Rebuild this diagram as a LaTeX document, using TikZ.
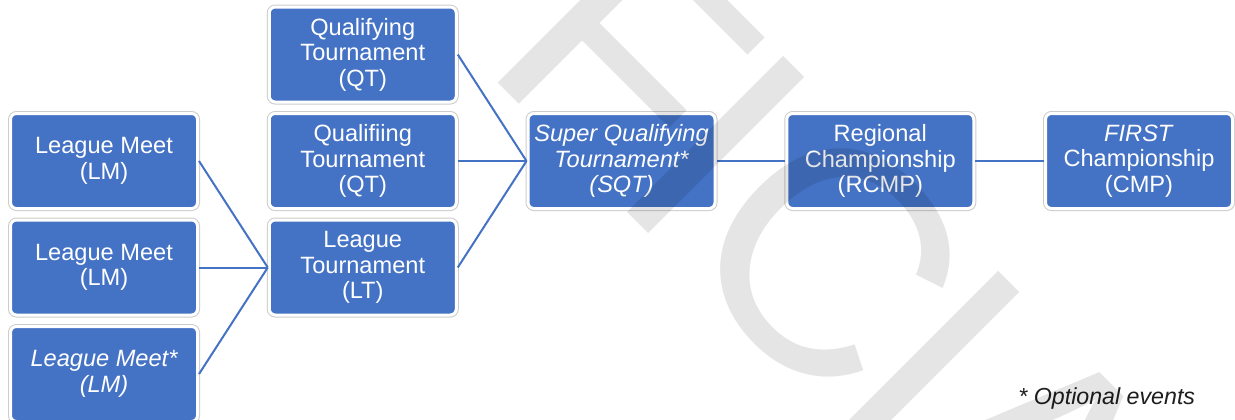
\documentclass[tikz,border=0pt]{standalone}
\usepackage{fontspec}
\setmainfont{Liberation Sans}
\newfontfamily\markfont{Liberation Sans}
\definecolor{eventblue}{RGB}{68,114,196}
\definecolor{notegray}{RGB}{30,30,30}
\newcommand{\eventfont}{\fontsize{11.8}{12.8}\selectfont}
\tikzset{
    event/.style={rectangle, rounded corners=3pt, fill=eventblue, draw=white, line width=1.5pt,
        preaction={draw=black!20, line width=2.5pt}, text=white, align=center,
        minimum width=93.5pt, minimum height=47.5pt, inner sep=1pt, font=\eventfont},
    optional/.style={event, font=\eventfont\itshape},
    link/.style={draw=eventblue, line width=1pt},
    note/.style={inner sep=0pt, text=notegray, font=\fontsize{11.6}{13}\selectfont\itshape},
    watermark/.style={anchor=base west, inner sep=0pt, transform shape, text=black,
        text opacity=0.1, font=\markfont\fontsize{160.5}{160.5}\selectfont}
}

\begin{document}
\begin{tikzpicture}[x=0.5pt,y=-0.5pt]
    \path[use as bounding box, fill=white] (0,0) rectangle (1235,419);
    % league meets
    \node[event] (lm1) at (104,161) {League Meet\\(LM)};
    \node[event] (lm2) at (104,267.5) {League Meet\\(LM)};
    \node[optional] (lm3) at (104,374) {League Meet*\\(LM)};
    % qualifying and league tournaments
    \node[event] (qt1) at (362.75,54.5) {Qualifying\\Tournament\\(QT)};
    \node[event] (qt2) at (362.75,161) {Qualifiing\\Tournament\\(QT)};
    \node[event] (lt) at (362.75,267.5) {League\\Tournament\\(LT)};
    % later rounds
    \node[optional] (sqt) at (621.5,161) {Super Qualifying\\Tournament*\\(SQT)};
    \node[event] (rcmp) at (880.25,161) {Regional\\Championship\\(RCMP)};
    \node[event] (cmp) at (1139,161) {\textit{FIRST}\\Championship\\(CMP)};
    \draw[link] (lm1.east) -- (lt.west);
    \draw[link] (lm2.east) -- (lt.west);
    \draw[link] (lm3.east) -- (lt.west);
    \draw[link] (qt1.east) -- (sqt.west);
    \draw[link] (qt2.east) -- (sqt.west);
    \draw[link] (lt.east) -- (sqt.west);
    \draw[link] (sqt) -- (rcmp);
    \draw[link] (rcmp) -- (cmp);
    \node[note, anchor=base west] (legend) at (1018,404) {* Optional events};
    % watermark on top
    \begin{scope}
        \clip (0,0) rectangle (1235,419);
        \begin{scope}[shift={(638,223)}, rotate=-45]
            \foreach \letter/\pos [count=\i] in {F/-225, I/-45, C/43.5, I/259, A/341}
                \node[watermark] (mark\i) at (\pos,0) {\letter};
        \end{scope}
    \end{scope}
\end{tikzpicture}
\end{document}
